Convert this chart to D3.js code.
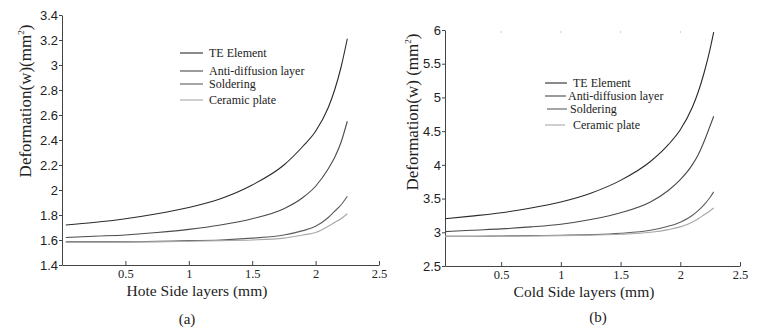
<!DOCTYPE html>
<html>
<head>
<meta charset="utf-8">
<script src="https://cdn.jsdelivr.net/npm/d3@7"></script>
<style>
  body { margin: 0; background: #fff; }
  svg text { fill: #222; }
</style>
</head>
<body>
<div id="chart"></div>
<script>
// series names + colours
const seriesNames = ['TE Element', 'Anti-diffusion layer', 'Soldering', 'Ceramic plate']
const seriesColors = ['#2a2a2a', '#4a4a4a', '#5e5e5e', '#a8a8a8']

// (a) hot side
const hotX = [0.03, 0.25, 0.5, 0.75, 1.0, 1.25, 1.5, 1.75, 1.9, 2.0, 2.1, 2.15, 2.2, 2.25]
const hotTE = [1.72, 1.74, 1.77, 1.81, 1.86, 1.93, 2.04, 2.2, 2.35, 2.47, 2.66, 2.8, 2.98, 3.21]
const hotAnti = [1.62, 1.63, 1.64, 1.66, 1.685, 1.72, 1.77, 1.85, 1.94, 2.03, 2.17, 2.26, 2.38, 2.55]
const hotSolder = [1.585, 1.585, 1.585, 1.59, 1.595, 1.6, 1.615, 1.64, 1.675, 1.71, 1.78, 1.83, 1.88, 1.95]
const hotCeramic = [1.58, 1.58, 1.582, 1.585, 1.59, 1.595, 1.6, 1.615, 1.64, 1.66, 1.71, 1.74, 1.77, 1.81]
const hotYTicks = [1.4, 1.6, 1.8, 2, 2.2, 2.4, 2.6, 2.8, 3, 3.2, 3.4]

// (b) cold side
const coldX = [0.03, 0.25, 0.5, 0.75, 1.0, 1.25, 1.5, 1.75, 1.9, 2.0, 2.1, 2.15, 2.2, 2.25, 2.28]
const coldTE = [3.2, 3.24, 3.29, 3.36, 3.45, 3.58, 3.77, 4.05, 4.3, 4.52, 4.85, 5.08, 5.37, 5.72, 5.97]
const coldAnti = [3.01, 3.03, 3.05, 3.08, 3.12, 3.19, 3.29, 3.45, 3.62, 3.78, 4.0, 4.15, 4.35, 4.58, 4.72]
const coldSolder = [2.94, 2.94, 2.945, 2.95, 2.955, 2.965, 2.985, 3.03, 3.09, 3.15, 3.25, 3.32, 3.41, 3.52, 3.6]
const coldCeramic = [2.94, 2.94, 2.942, 2.945, 2.95, 2.958, 2.97, 3.0, 3.04, 3.08, 3.15, 3.2, 3.26, 3.32, 3.36]
const coldYTicks = [2.5, 3, 3.5, 4, 4.5, 5, 5.5, 6]

const xTicks = [0.5, 1, 1.5, 2, 2.5]

const svg = d3.select('#chart').append('svg')
  .attr('width', 761)
  .attr('height', 331)

const serif = '"Liberation Serif", "Times New Roman", serif'
const sans = '"Liberation Sans", Arial, sans-serif'

function drawPanel (p) {
  const x = d3.scaleLinear().domain(p.xDomain).range(p.xRange)
  const y = d3.scaleLinear().domain(p.yDomain).range(p.yRange)
  const g = svg.append('g')

  // x axis, ticks point inward
  const xAxis = g.append('g')
    .attr('transform', `translate(0, ${p.yRange[0]})`)
    .call(d3.axisBottom(x).tickValues(xTicks).tickSizeInner(-4).tickSizeOuter(0)
      .tickFormat(d3.format('')))
  xAxis.attr('font-family', serif)
  xAxis.select('.domain').attr('stroke', '#444')
  xAxis.selectAll('.tick line').attr('stroke', '#444')
  xAxis.selectAll('.tick text')
    .attr('y', 4)
    .attr('font-family', serif).attr('font-size', 12.5).attr('fill', '#222')

  // y axis
  const yAxis = g.append('g')
    .attr('transform', `translate(${p.xRange[0]}, 0)`)
    .call(d3.axisLeft(y).tickValues(p.yTicks).tickSize(3).tickSizeOuter(0)
      .tickFormat(d3.format('')))
  yAxis.select('.domain').attr('stroke', '#444')
  yAxis.selectAll('.tick line').attr('stroke', '#444')
  yAxis.selectAll('.tick text')
    .attr('x', -4)
    .attr('font-family', sans).attr('font-size', 13).attr('fill', '#333')

  // faint top ticks (only the right panel shows them)
  if (p.topTicks) {
    g.selectAll('.top-tick').data(xTicks.slice(0, 4)).enter()
      .append('line')
      .attr('x1', d => x(d)).attr('x2', d => x(d))
      .attr('y1', p.yRange[1] + 1).attr('y2', p.yRange[1] + 3)
      .attr('stroke', '#ccc')
  }

  // curves
  const line = d3.line()
    .x(d => x(d[0]))
    .y(d => y(d[1]))
    .curve(d3.curveMonotoneX)
  g.selectAll('.curve').data(p.series).enter()
    .append('path')
    .attr('d', s => line(p.xs.map((v, i) => [v, s[i]])))
    .attr('fill', 'none')
    .attr('stroke', (s, i) => seriesColors[i])
    .attr('stroke-width', 1.1)

  // legend
  const leg = g.selectAll('.leg').data(seriesNames).enter()
    .append('g')
    .attr('transform', (d, i) => `translate(0, ${p.legendY[i]})`)
  leg.append('line')
    .attr('x1', (d, i) => p.legendLine[i][0]).attr('x2', (d, i) => p.legendLine[i][1])
    .attr('stroke', (d, i) => seriesColors[i])
    .attr('stroke-width', 1.1)
  leg.append('text')
    .attr('x', (d, i) => p.legendText[i])
    .attr('y', 4)
    .attr('font-family', serif).attr('font-size', 12)
    .text(d => d)

  // titles
  g.append('text')
    .attr('transform', `translate(${p.yTitlePos[0]}, ${p.yTitlePos[1]}) rotate(-90)`)
    .attr('text-anchor', 'middle')
    .attr('font-family', serif).attr('font-size', 17)
    .call(t => {
      t.append('tspan').text(p.yTitle)
      t.append('tspan').text('2').attr('font-size', 9).attr('dy', -7)
      t.append('tspan').text(')').attr('dy', 7)
    })
  g.append('text')
    .attr('x', p.xTitlePos[0]).attr('y', p.xTitlePos[1])
    .attr('text-anchor', 'middle')
    .attr('font-family', serif).attr('font-size', 15.5)
    .text(p.xTitle)
  g.append('text')
    .attr('x', p.labelPos[0]).attr('y', p.labelPos[1])
    .attr('text-anchor', 'middle')
    .attr('font-family', serif).attr('font-size', 15)
    .text(p.label)
}

drawPanel({
  xs: hotX,
  series: [hotTE, hotAnti, hotSolder, hotCeramic],
  xDomain: [0, 2.5], xRange: [62, 379],
  yDomain: [1.4, 3.4], yRange: [265, 15],
  yTicks: hotYTicks,
  legendY: [53, 71, 84, 100],
  legendLine: [[180, 203], [180, 203], [180, 203], [180, 203]],
  legendText: [209, 209, 209, 209],
  yTitle: 'Deformation(w)(mm',
  yTitlePos: [31, 101],
  xTitle: 'Hote Side layers (mm)',
  xTitlePos: [197, 296],
  label: '(a)',
  labelPos: [187, 324]
})

drawPanel({
  xs: coldX,
  series: [coldTE, coldAnti, coldSolder, coldCeramic],
  xDomain: [0.03, 2.5], xRange: [445, 740],
  yDomain: [2.5, 6], yRange: [266, 30],
  yTicks: coldYTicks,
  topTicks: true,
  legendY: [83, 96, 109, 125],
  legendLine: [[545, 567], [545, 566], [547, 567], [545, 565]],
  legendText: [573, 568, 570, 573],
  yTitle: 'Deformation(w) (mm',
  yTitlePos: [418, 112],
  xTitle: 'Cold Side layers (mm)',
  xTitlePos: [584, 297],
  label: '(b)',
  labelPos: [598, 322]
})
</script>
</body>
</html>
